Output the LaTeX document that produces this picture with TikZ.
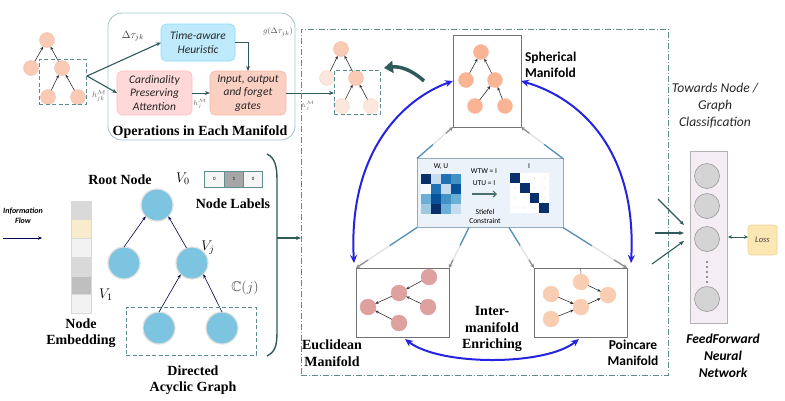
\RequirePackage{fix-cm}
\documentclass[tikz,border=0pt]{standalone}
\usepackage{fontspec}
\usepackage{amssymb}
\setmainfont{Liberation Serif}
\newfontfamily\sansf{Carlito}
\usetikzlibrary{arrows.meta,calc}
\definecolor{peach}{HTML}{F9CBB4}
\definecolor{peachdraw}{HTML}{F2B6A2}
\definecolor{faded}{HTML}{FDE6DB}
\definecolor{sphc}{HTML}{F9B593}
\definecolor{eucc}{HTML}{DFA0A0}
\definecolor{poic}{HTML}{F9CDB2}
\definecolor{dagc}{HTML}{7CC4DF}
\definecolor{teal}{HTML}{5F8C8C}
\definecolor{darkteal}{HTML}{2E5A5A}
\definecolor{arcblue}{HTML}{2424E0}
\definecolor{opsline}{HTML}{A8C6D2}
\definecolor{mA}{HTML}{08306B}
\definecolor{mB}{HTML}{08519C}
\definecolor{mC}{HTML}{2171B5}
\definecolor{mD}{HTML}{4292C6}
\definecolor{mE}{HTML}{C6DBEF}
\definecolor{mF}{HTML}{6BAED6}
\definecolor{mG}{HTML}{9ECAE1}
\definecolor{mH}{HTML}{F7FBFF}
\newcommand\gradline[2]{%
  \draw[gla] (#1) -- ($(#1)!0.45!(#2)$);
  \draw[glb] ($(#1)!0.45!(#2)$) -- ($(#1)!0.8!(#2)$);
  \draw[glc] ($(#1)!0.8!(#2)$) -- (#2);}
\begin{document}
\begin{tikzpicture}[x=1pt,y=-1pt,
  every node/.style={inner sep=0pt, outer sep=0pt},
  tnode/.style={circle, minimum size=15pt, fill=peach, draw=peachdraw, line width=0.3pt},
  tarr/.style={-{Stealth[length=3.5pt,width=3pt]}, line width=0.6pt, draw=black!80},
  dashbox/.style={draw=teal, dashed, dash pattern=on 4pt off 2.5pt, line width=1pt},
  arr/.style={-{Stealth[length=5pt,width=4pt]}, line width=1.1pt, draw=darkteal},
  procbox/.style={rounded corners=5pt, line width=0.6pt, align=center,
     font=\sansf\itshape\fontsize{11.5}{13.5}\selectfont, text=black!85},
  serifb/.style={font=\fontsize{14}{16.5}\selectfont\bfseries, align=center},
  sansb/.style={font=\sansf\bfseries\fontsize{13.5}{16}\selectfont, align=left},
  mbox/.style={draw=black!55, line width=0.7pt, fill=white},
  gla/.style={draw=mD!80!gray, line width=1.3pt},
  glb/.style={draw=black!12, line width=1.3pt},
  glc/.style={draw=black!45, line width=1.3pt, -{Stealth[length=4pt,width=4pt]}},
  blarc/.style={draw=arcblue, line width=2pt, {Stealth[length=8pt,width=7pt]}-{Stealth[length=8pt,width=7pt]}},
  dagnode/.style={circle, minimum size=32pt, fill=dagc, draw=black!12, line width=1.2pt},
  dagarr/.style={-{Stealth[length=4pt,width=3pt]}, line width=0.6pt, draw=black!70!blue},
  embcell/.style={minimum width=20pt, minimum height=18.7pt, draw=black!15, line width=0.5pt},
  labcell/.style={minimum width=19.3pt, minimum height=16pt, draw=teal, line width=0.8pt, font=\sansf\fontsize{5}{5}\selectfont},
  ffnc/.style={circle, minimum size=25pt, fill=black!17, draw=black!45, line width=0.5pt},
  mlab/.style={text=black!60}
]
\useasboundingbox (0,0) rectangle (785,400);

% ---------- top-left tree ----------
\node[tnode] (a0) at (47,40) {};
\node[tnode] (a1) at (31,68) {};
\node[tnode] (a2) at (62,68) {};
\node[tnode] (a3) at (48,97) {};
\node[tnode] (a4) at (78,97) {};
\draw[tarr] (a1) -- (a0);
\draw[tarr] (a2) -- (a0);
\draw[tarr] (a3) -- (a2);
\draw[tarr] (a4) -- (a2);
\node[dashbox, minimum width=47pt, minimum height=45pt] (tlbox) at (62.5,81.5) {};
\node[mlab, font=\fontsize{8}{8}\selectfont] (hjk) at (99,96) {$h^{\mathcal{M}}_{jk}$};

% ---------- operations box ----------
\node[draw=opsline, rounded corners=14pt, line width=0.9pt, minimum width=187pt, minimum height=127pt] (ops) at (201.5,76.5) {};
\node[procbox, fill=cyan!25, draw=cyan!45, minimum width=74pt, minimum height=37pt] (heur) at (198,42.5) {Time-aware\\Heuristic};
\node[procbox, fill=red!15, draw=red!25, minimum width=75pt, minimum height=44pt] (card) at (154.5,93) {Cardinality\\Preserving\\Attention};
\node[procbox, fill={rgb,255:red,251;green,208;blue,194}, draw={rgb,255:red,245;green,184;blue,165}, minimum width=76pt, minimum height=44pt] (gates) at (248,93) {Input, output\\and forget\\gates};
\node[font=\fontsize{10.5}{10.5}\selectfont, text=black!75] (dtau) at (133,36) {$\Delta\tau_{jk}$};
\node[font=\fontsize{8}{8}\selectfont, text=black!70] (gdt) at (278,32) {$g(\Delta\tau_{jk})$};
\node[mlab, font=\fontsize{7}{7}\selectfont] (hj) at (200,104) {$h^{\mathcal{M}}_{j}$};
\node[serifb] (opstitle) at (200,132) {Operations in Each Manifold};
\coordinate (split) at (87,76);
\draw[arr] (split) -- (heur.west);
\draw[arr] (split) -- (card.west);
\draw[arr, line width=0.9pt] (card.east) -- (gates.west);
\draw[arr, line width=0.9pt] (heur.east) -| (gates.north);

% ---------- second (faded) tree ----------
\node[tnode] (b0) at (341,49) {};
\node[tnode, fill=faded, draw=peachdraw!60] (b1) at (327,78) {};
\node[tnode] (b2) at (356,78) {};
\node[tnode, fill=faded, draw=peachdraw!60] (b3) at (342,106) {};
\node[tnode, fill=faded, draw=peachdraw!60] (b4) at (371,106) {};
\draw[tarr] (b1) -- (b0);
\draw[tarr] (b2) -- (b0);
\draw[tarr] (b3) -- (b2);
\draw[tarr] (b4) -- (b2);
\node[dashbox, minimum width=46pt, minimum height=44pt] (tbox2) at (357,92) {};
\node[mlab, font=\fontsize{6}{6}\selectfont] (hj2) at (308,106) {$h^{\mathcal{M}}_{j}$};
\draw[arr, line width=0.9pt] (gates.east) -- (gates.east -| tbox2.west);
\coordinate (swt) at (424,81);
\coordinate (swh) at (384,68);
\draw[draw=darkteal, line width=3.5pt, -{Triangle[length=9pt,width=12pt]}] (swt) .. controls (412,70) and (400,66) .. (swh);

% ---------- big dash-dot frame ----------
\node[draw=teal, line width=0.9pt, dash pattern=on 6pt off 2pt on 1pt off 2pt, minimum width=367pt, minimum height=346pt] (bigbox) at (484.5,202) {};

% ---------- spherical ----------
\node[mbox, minimum width=68pt, minimum height=92pt] (sph) at (487,81) {};
\node[tnode, fill=sphc, draw=sphc] (s0) at (481,52) {};
\node[tnode, fill=sphc, draw=sphc] (s1) at (466,80) {};
\node[tnode, fill=sphc, draw=sphc] (s2) at (495,80) {};
\node[tnode, fill=sphc, draw=sphc] (s3) at (475,106) {};
\node[tnode, fill=sphc, draw=sphc] (s4) at (505,106) {};
\draw[tarr] (s1) -- (s0);
\draw[tarr] (s2) -- (s0);
\draw[tarr] (s3) -- (s2);
\draw[tarr] (s4) -- (s2);
\node[sansb, anchor=west] (sphlab) at (525,65) {Spherical\\Manifold};

% ---------- Stiefel box ----------
\node[draw=mD!45!gray!70, fill=mE!35!white, line width=0.9pt, minimum width=146pt, minimum height=69pt] (stf) at (490,193) {};
\foreach \c [count=\k from 0] in {mA,mE,mC,mD} \fill[\c] ({421+10*\k},174) rectangle +(10,10);
\foreach \c [count=\k from 0] in {mH,mC,mE,mB} \fill[\c] ({421+10*\k},184) rectangle +(10,10);
\foreach \c [count=\k from 0] in {mF,mB,mD,mF} \fill[\c] ({421+10*\k},194) rectangle +(10,10);
\foreach \c [count=\k from 0] in {mG,mA,mF,mE} \fill[\c] ({421+10*\k},204) rectangle +(10,10);
\fill[white] (510,173) rectangle (549,213);
\foreach \k in {0,...,3} \fill[mA] ({510+9.75*\k},{173+10*\k}) rectangle +(9.75,10);
\foreach \i in {0,...,3} \foreach \j in {0,...,3} {\ifnum\i=\j\else\fill[black!30] ({514.9+9.75*\i},{178+10*\j}) circle (0.45);\fi}
\node[font=\sansf\fontsize{7.5}{7.5}\selectfont] (wu) at (441,167) {W, U};
\node[font=\sansf\fontsize{7.5}{7.5}\selectfont] (ilab) at (529,166) {I};
\node[font=\sansf\fontsize{7.5}{7.5}\selectfont] (wtw) at (484,171) {WTW = I};
\node[font=\sansf\fontsize{7.5}{7.5}\selectfont] (utu) at (484,183) {UTU = I};
\coordinate (sa1) at (472,194);
\coordinate (sa2) at (497,194);
\draw[-{Straight Barb[length=3pt,width=6pt]}, draw=teal!80!black, line width=1.2pt] (sa1) -- (sa2);
\node[font=\sansf\fontsize{7.5}{9.5}\selectfont, align=center] (stlab) at (485,216.5) {Stiefel\\Constraint};

% ---------- Euclidean ----------
\node[mbox, minimum width=93pt, minimum height=69pt] (euc) at (402.5,302.5) {};
\node[tnode, minimum size=16pt, fill=eucc, draw=eucc] (e0) at (429,277) {};
\node[tnode, minimum size=16pt, fill=eucc, draw=eucc] (e1) at (399,293) {};
\node[tnode, minimum size=16pt, fill=eucc, draw=eucc] (e2) at (368,307) {};
\node[tnode, minimum size=16pt, fill=eucc, draw=eucc] (e3) at (428,307) {};
\node[tnode, minimum size=16pt, fill=eucc, draw=eucc] (e4) at (399,323) {};
\draw[tarr] (e0) -- (e1);
\draw[tarr] (e3) -- (e1);
\draw[tarr] (e1) -- (e2);
\draw[tarr] (e4) -- (e2);
\node[serifb] (euclab) at (332,353) {Euclidean\\Manifold};

% ---------- Poincare ----------
\node[mbox, minimum width=93pt, minimum height=69pt] (poi) at (580.5,302.5) {};
\node[tnode, minimum size=16pt, fill=poic, draw=poic] (p0) at (581,282) {};
\node[tnode, minimum size=16pt, fill=poic, draw=poic] (p1) at (551,294) {};
\node[tnode, minimum size=16pt, fill=poic, draw=poic] (p2) at (608,295) {};
\node[tnode, minimum size=16pt, fill=poic, draw=poic] (p3) at (581,307) {};
\node[tnode, minimum size=16pt, fill=poic, draw=poic] (p4) at (551,319) {};
\draw[tarr] (p1) -- (p3);
\draw[tarr] (p4) -- (p3);
\draw[tarr] (p0) -- (p2);
\draw[tarr] (p3) -- (p2);
\draw[draw=black!60, line width=0.5pt] (poi.north) -- (p0.north);
\node[sansb, align=center] (poilab) at (633,353) {Poincare\\Manifold};

% ---------- gradient connectors ----------
\coordinate (bB) at ($(stf.south west)!0.356!(stf.south east)$);
\coordinate (bC) at ($(stf.south west)!0.63!(stf.south east)$);
\gradline{stf.north west}{sph.south west}
\gradline{stf.north east}{sph.south east}
\gradline{stf.south west}{euc.north west}
\gradline{bB}{euc.north east}
\gradline{bC}{poi.north west}
\gradline{stf.south east}{poi.north east}

% ---------- blue arcs ----------
\coordinate (la) at (354,263);
\coordinate (ra) at (631,263);
\coordinate (lb) at (405,339);
\coordinate (rb) at (579,339);
\draw[blarc] (la) .. controls (348,150) and (405,98) .. (sph.west);
\draw[blarc] (ra) .. controls (637,150) and (580,98) .. (sph.east);
\draw[blarc] (lb) .. controls (440,366) and (545,366) .. (rb);
\node[serifb] (inter) at (492,329) {Inter-\\manifold\\Enriching};

% ---------- DAG ----------
\node[dagnode] (r0) at (157,205) {};
\node[dagnode] (r1) at (124,263) {};
\node[dagnode] (r2) at (192,263) {};
\node[dagnode] (r3) at (159,328) {};
\node[dagnode] (r4) at (222,328) {};
\draw[dagarr] (r1.north) -- (r0.south west);
\draw[dagarr] (r2.110) -- (r0.south east);
\draw[dagarr] (r3.north) -- (r2.south west);
\draw[dagarr] (r4.north) -- (r2.south east);
\node[dashbox, line width=0.9pt, minimum width=130pt, minimum height=48pt] (cbox) at (191,331) {};
\node[serifb] (rootlab) at (120,180) {Root Node};
\node[font=\fontsize{14}{14}\selectfont] (v0) at (183,179) {$V_0$};
\node[font=\fontsize{14}{14}\selectfont] (vj) at (208,248) {$V_j$};
\node[font=\fontsize{14}{14}\selectfont, text=black!75] (cj) at (245,288) {$\mathbb{C}(j)$};
\node[font=\fontsize{14}{14}\selectfont] (v1) at (106,295) {$V_1$};
\node[labcell, fill=black!4] (l0) at (214.5,179) {0};
\node[labcell, fill=black!35] (l1) at (233.8,179) {1};
\node[labcell, fill=black!4] (l2) at (253.1,179) {0};
\node[serifb] (nllab) at (233,204) {Node Labels};
\node[serifb] (dagl) at (193,380) {Directed\\Acyclic Graph};

% ---------- node embedding ----------
\node[embcell, fill=black!15] (em1) at (81,210.3) {};
\node[embcell, fill={rgb,255:red,248;green,236;blue,204}] (em2) at (81,229.0) {};
\node[embcell, fill=black!5] (em3) at (81,247.7) {};
\node[embcell, fill=black!15] (em4) at (81,266.4) {};
\node[embcell, fill=black!25] (em5) at (81,285.1) {};
\node[embcell, fill=black!5] (em6) at (81,303.8) {};
\node[serifb] (emlab) at (81,333) {Node\\Embedding};

% ---------- information flow ----------
\node[font=\sansf\bfseries\itshape\fontsize{8}{10}\selectfont, align=center] (iflab) at (23,216) {Information\\Flow};
\coordinate (ifs) at (3,238);
\coordinate (ife) at (42,238);
\draw[-{Stealth[length=4pt,width=3.5pt]}, line width=0.7pt, draw=black!70!blue] (ifs) -- (ife);

% ---------- bracket ----------
\coordinate (bt) at (267,154);
\coordinate (bm) at (277,238);
\coordinate (bb) at (267,356);
\draw[draw=darkteal, line width=1.4pt] (bt) .. controls (275,158) and (277,166) .. (277,180) -- (277,332) .. controls (277,346) and (275,352) .. (bb);
\draw[arr] (bm) -- (bm -| bigbox.west);

% ---------- right side ----------
\node[font=\sansf\itshape\fontsize{13.5}{17}\selectfont, align=center, text=black!85] (tow) at (715,106) {Towards Node /\\Graph\\Classification};
\node[draw=black!30, fill={rgb,255:red,244;green,238;blue,244}, line width=0.7pt, minimum width=37pt, minimum height=172pt] (ffn) at (708.5,237) {};
\node[ffnc] (f1) at (707,176) {};
\node[ffnc] (f2) at (707,206) {};
\node[ffnc] (f3) at (707,239) {};
\node[ffnc] (f4) at (707,299) {};
\foreach \yy in {262,267,272,277,282} \fill[black!80] (707,\yy) circle (0.9);
\coordinate (i1) at (658,199);
\coordinate (i2) at (655,233);
\coordinate (i3) at (652,264);
\coordinate (h1) at (684,225);
\coordinate (h2) at (684,233);
\coordinate (h3) at (684,241);
\draw[arr] (i1) -- (h1);
\draw[arr] (i2) -- (h2);
\draw[arr] (i3) -- (h3);
\node[fill={rgb,255:red,251;green,231;blue,179}, draw={rgb,255:red,235;green,213;blue,149}, rounded corners=3pt, line width=0.6pt, minimum width=29pt, minimum height=30pt, font=\sansf\itshape\fontsize{8.5}{8.5}\selectfont, text=black!75] (loss) at (762.5,240) {Loss};
\draw[{Stealth[length=4pt,width=3.5pt]}-{Stealth[length=4pt,width=3.5pt]}, line width=0.9pt, draw=darkteal] ($(ffn.east)+(1,0)$) -- (loss.west |- ffn.east);
\node[font=\sansf\bfseries\itshape\fontsize{13.5}{17}\selectfont, align=center] (ffnlab) at (723,356) {FeedForward\\Neural\\Network};
\end{tikzpicture}
\end{document}
